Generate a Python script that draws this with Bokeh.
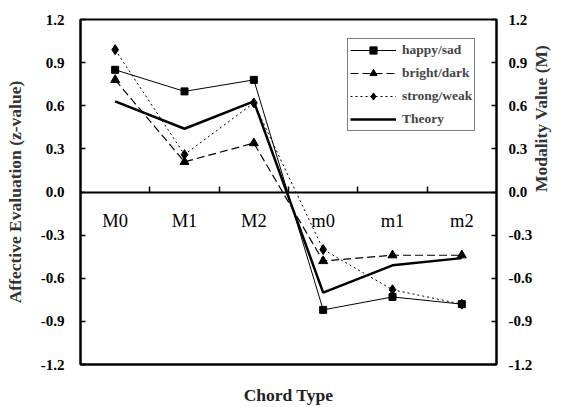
import math
from bokeh.plotting import figure
from bokeh.models import (Range1d, LinearAxis, FixedTicker, PrintfTickFormatter,
                          Legend, LegendItem)
from bokeh.embed import file_html
from bokeh.resources import INLINE

categories = ["M0", "M1", "M2", "m0", "m1", "m2"]
happy_sad = [0.85, 0.70, 0.78, -0.82, -0.73, -0.78]
bright_dark = [0.78, 0.21, 0.34, -0.48, -0.44, -0.44]
strong_weak = [0.99, 0.26, 0.62, -0.40, -0.68, -0.78]
theory = [0.63, 0.44, 0.63, -0.70, -0.51, -0.46]
y_ticks = [-1.2, -0.9, -0.6, -0.3, 0.0, 0.3, 0.6, 0.9, 1.2]

x = [i + 0.5 for i in range(len(categories))]
boundaries = [i for i in range(1, len(categories))]

SERIF = "'Liberation Serif', 'Times New Roman', serif"

p = figure(width=563, height=407, x_range=Range1d(0, len(categories)),
           y_range=Range1d(-1.2, 1.2), output_backend="svg", toolbar_location=None,
           x_axis_type=None, y_axis_type=None,
           min_border_left=80, min_border_right=63, min_border_top=19, min_border_bottom=0)
p.grid.visible = False
p.outline_line_color = "black"
p.outline_line_width = 2
p.background_fill_color = "white"
p.border_fill_color = "white"

def style_y(ax, standoff, title_standoff):
    ax.ticker = FixedTicker(ticks=y_ticks)
    ax.formatter = PrintfTickFormatter(format="%.1f")
    ax.major_tick_in = 5
    ax.major_tick_out = 0
    ax.minor_tick_line_color = None
    ax.axis_line_width = 2
    ax.major_tick_line_width = 1.5
    ax.major_label_text_font = SERIF
    ax.major_label_text_font_style = "bold"
    ax.major_label_text_font_size = "15px"
    ax.major_label_text_color = "black"
    ax.major_label_standoff = standoff
    ax.axis_label_text_font = SERIF
    ax.axis_label_text_font_style = "bold"
    ax.axis_label_text_font_size = "17.5px"
    ax.axis_label_text_color = "#333333"
    ax.axis_label_standoff = title_standoff

left = LinearAxis(axis_label="Affective Evaluation (z-value)")
style_y(left, 16, 13)
p.add_layout(left, "left")

right = LinearAxis()
style_y(right, 12, 8)
p.add_layout(right, "right")

# title of the right axis: a bare outer axis whose label reads bottom-to-top
right_title = LinearAxis(axis_label="Modality Value (M)",
                         ticker=FixedTicker(ticks=[]), bounds=(-1.2, 0.17))
right_title.axis_line_color = None
right_title.major_tick_line_color = None
right_title.minor_tick_line_color = None
right_title.major_tick_in = 0
right_title.major_tick_out = 0
right_title.major_label_standoff = 0
right_title.axis_label_text_font = SERIF
right_title.axis_label_text_font_style = "bold"
right_title.axis_label_text_font_size = "17.5px"
right_title.axis_label_text_color = "#333333"
right_title.axis_label_standoff = 5
right_title.axis_label_orientation = math.pi / 2
p.add_layout(right_title, "right")

bottom = LinearAxis(axis_label="Chord Type", ticker=FixedTicker(ticks=[]))
bottom.axis_line_width = 2
bottom.major_tick_line_color = None
bottom.minor_tick_line_color = None
bottom.major_label_standoff = 0
bottom.axis_label_text_font = SERIF
bottom.axis_label_text_font_style = "bold"
bottom.axis_label_text_font_size = "17.5px"
bottom.axis_label_text_color = "#222222"
bottom.axis_label_standoff = 20
p.add_layout(bottom, "below")

zero_axis = LinearAxis(fixed_location=0,
                       ticker=FixedTicker(ticks=x, minor_ticks=boundaries))
zero_axis.major_label_overrides = {xv: c for xv, c in zip(x, categories)}
zero_axis.axis_line_width = 2
zero_axis.major_tick_in = 0
zero_axis.major_tick_out = 0
zero_axis.minor_tick_in = 6
zero_axis.minor_tick_out = 0
zero_axis.minor_tick_line_width = 1.5
zero_axis.major_label_standoff = 19
zero_axis.major_label_text_font = SERIF
zero_axis.major_label_text_font_size = "18.5px"
zero_axis.major_label_text_color = "black"
p.add_layout(zero_axis, "below")

r1l = p.line(x, happy_sad, line_color="black", line_width=1)
r1m = p.scatter(x, happy_sad, marker="square", size=7, color="black")
r2l = p.line(x, bright_dark, line_color="black", line_width=1.2, line_dash="8 4")
r2m = p.scatter(x, bright_dark, marker="triangle", size=9, color="black")
r3l = p.line(x, strong_weak, line_color="black", line_width=1, line_dash="2 3")
r3m = p.scatter(x, strong_weak, marker="diamond", size=10, color="black")
r4l = p.line(x, theory, line_color="black", line_width=2.5)

legend = Legend(items=[
    LegendItem(label="happy/sad", renderers=[r1l, r1m]),
    LegendItem(label="bright/dark", renderers=[r2l, r2m]),
    LegendItem(label="strong/weak", renderers=[r3l, r3m]),
    LegendItem(label="Theory", renderers=[r4l]),
], location=(267, 233))
legend.label_text_font = SERIF
legend.label_text_font_style = "bold"
legend.label_text_font_size = "13.5px"
legend.glyph_width = 46
legend.glyph_height = 18
legend.label_height = 18
legend.label_standoff = 6
legend.spacing = 5
legend.padding = 2
legend.margin = 0
legend.border_line_color = "black"
legend.border_line_width = 1.5
legend.background_fill_alpha = 1
p.add_layout(legend, "center")

open("out.html", "w").write(file_html(p, INLINE))
